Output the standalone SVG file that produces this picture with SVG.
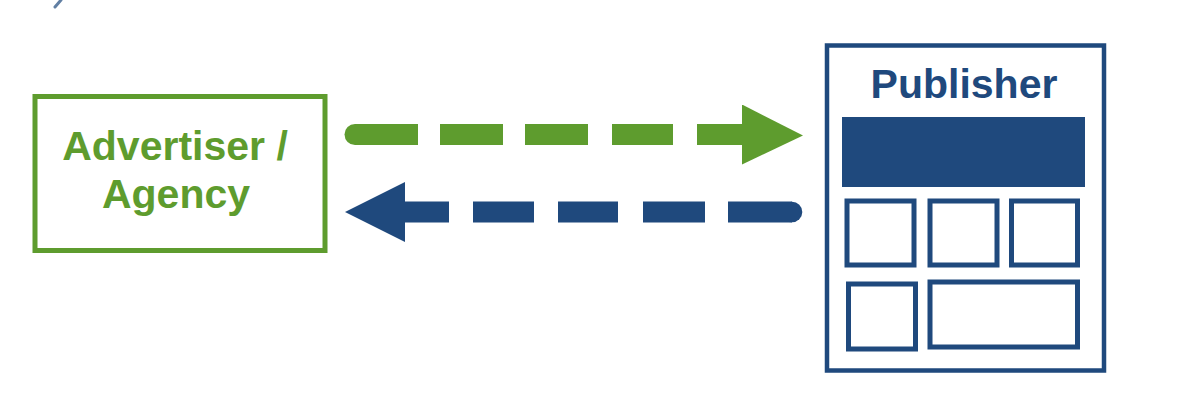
<svg xmlns="http://www.w3.org/2000/svg" width="1200" height="405" viewBox="0 0 1200 405">
  <style>
    .lbl { font-family: "Liberation Sans", Arial, sans-serif; font-weight: bold; font-size: 41px; text-anchor: middle; }
    .green-t { fill: #5e9c2e; }
    .blue-t { fill: #1f497d; }
    .frame-g { fill: #ffffff; stroke: #5e9c2e; stroke-width: 5; }
    .frame-b { fill: #ffffff; stroke: #1f497d; stroke-width: 4.5; }
    .cell { fill: #ffffff; stroke: #1f497d; stroke-width: 5; }
    .dash { fill: none; stroke-width: 21; stroke-linecap: butt; }
  </style>
  <defs>
    <marker id="headG" markerUnits="userSpaceOnUse" markerWidth="64" markerHeight="62" refX="1" refY="30" orient="auto">
      <path d="M0,0 L61,31 L0,60 Z" fill="#5e9c2e"/>
    </marker>
    <marker id="headB" markerUnits="userSpaceOnUse" markerWidth="64" markerHeight="62" refX="1" refY="30" orient="auto">
      <path d="M0,0 L60,30 L0,60 Z" fill="#1f497d"/>
    </marker>
  </defs>
  <rect width="1200" height="405" fill="#ffffff"/>
  <path d="M61,0 L55,7" stroke="#1f497d" stroke-width="3" stroke-linecap="round" opacity="0.7"/>

  <g id="advertiser">
    <rect class="frame-g" x="35" y="96.5" width="290" height="154"/>
    <text class="lbl green-t" x="175" y="160">Advertiser /</text>
    <text class="lbl green-t" x="176" y="208">Agency</text>
  </g>

  <g id="publisher">
    <rect class="frame-b" x="827" y="45.5" width="277" height="325"/>
    <text class="lbl blue-t" x="964" y="98">Publisher</text>
    <rect x="842" y="117" width="243" height="70" fill="#1f497d"/>
    <rect class="cell" x="847" y="201" width="67" height="64"/>
    <rect class="cell" x="930" y="201" width="67" height="64"/>
    <rect class="cell" x="1011.5" y="201" width="66" height="64"/>
    <rect class="cell" x="848.5" y="284" width="67" height="65"/>
    <rect class="cell" x="930" y="282" width="147.5" height="65"/>
  </g>

  <g id="connectors">
    <circle cx="355" cy="134.5" r="10.5" fill="#5e9c2e"/>
    <path class="dash" stroke="#5e9c2e" d="M355,134.5 H743" stroke-dasharray="63 22 63 22 63 24 61 24 100" marker-end="url(#headG)"/>
    <circle cx="792" cy="212" r="10.3" fill="#1f497d"/>
    <path class="dash" stroke="#1f497d" stroke-width="20.5" d="M792,212 H404" stroke-dasharray="64 23 62 25 60 24 61 24 100" marker-end="url(#headB)"/>
  </g>
</svg>
